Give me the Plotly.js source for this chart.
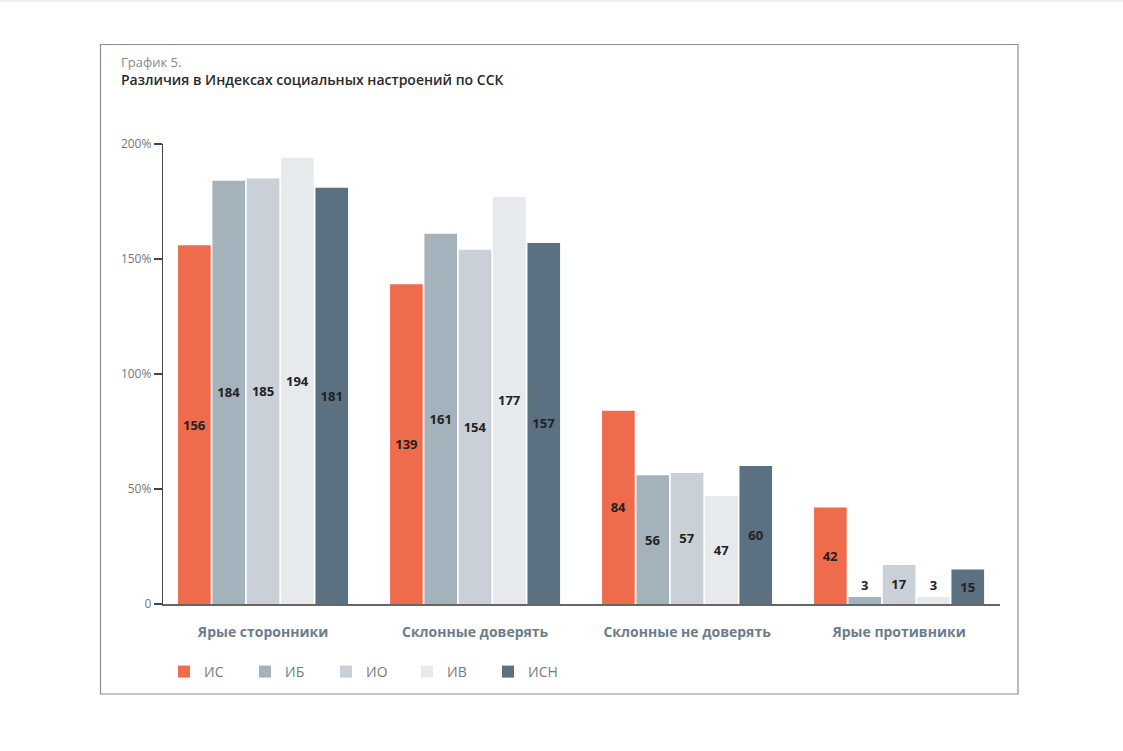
<!DOCTYPE html>
<html>
<head>
<meta charset="utf-8">
<script src="https://cdn.plot.ly/plotly-3.0.1.min.js"></script>
<style>
html,body{margin:0;padding:0;background:#fff;}
#chart{width:1123px;height:751px;}
</style>
</head>
<body>
<div id="chart"></div>
<script>
const categories = ["Ярые сторонники", "Склонные доверять", "Склонные не доверять", "Ярые противники"];
const seriesNames = ["ИС", "ИБ", "ИО", "ИВ", "ИСН"];
const valuesIS  = [156, 139, 84, 42];
const valuesIB  = [184, 161, 56, 3];
const valuesIO  = [185, 154, 57, 17];
const valuesIV  = [194, 177, 47, 3];
const valuesISN = [181, 157, 60, 15];
const yTickVals = [0, 50, 100, 150, 200];
const yTickText = ["0", "50%", "100%", "150%", "200%"];
const titleSmall = "График 5.";
const titleMain = "Различия в Индексах социальных настроений по ССК";

const colors = ["#EE6B4C", "#A4B2BC", "#C9D0D7", "#E7EAED", "#5B7080"];
const allValues = [valuesIS, valuesIB, valuesIO, valuesIV, valuesISN];
const font = "'Open Sans', 'DejaVu Sans', sans-serif";

const traces = allValues.map((vals, i) => ({
  type: "bar",
  name: seriesNames[i],
  x: categories,
  y: vals,
  text: vals.map(String),
  textposition: "auto",
  insidetextanchor: "middle",
  constraintext: "none",
  textfont: {family: font, size: 13, color: "#222", weight: 700},
  insidetextfont: {family: font, size: 13, color: "#222", weight: 700},
  outsidetextfont: {family: font, size: 13, color: "#222", weight: 700},
  marker: {color: colors[i]},
  hoverinfo: "skip"
}));

const W = 837, H = 460;
const px = x => (x - 163) / W;
const py = y => (604 - y) / H;

const layout = {
  width: 1123, height: 751,
  margin: {l: 163, r: 123, t: 144, b: 147},
  paper_bgcolor: "#fff", plot_bgcolor: "#fff",
  barmode: "group",
  bargap: 0.19,
  bargroupgap: 0.05,
  showlegend: true,
  legend: {
    orientation: "h",
    x: px(164), y: py(656), xanchor: "left", yanchor: "top",
    entrywidth: 36, entrywidthmode: "pixels",
    font: {family: font, size: 14, color: "#7A7A7A"},
    itemwidth: 30, traceorder: "normal"
  },
  xaxis: {
    type: "category",
    range: [-0.472, 3.476],
    showline: true, linecolor: "#666", linewidth: 1.5,
    ticks: "", showgrid: false, zeroline: false,
    tickfont: {family: font, size: 14, color: "#6C7D8A", weight: 700},
    ticklabelstandoff: 15
  },
  yaxis: {
    range: [0, 200],
    tickvals: yTickVals, ticktext: yTickText,
    showline: true, linecolor: "#444", linewidth: 1.2,
    ticks: "outside", ticklen: 8, tickcolor: "#444", tickwidth: 1.2,
    showgrid: false, zeroline: false,
    tickfont: {family: font, size: 12, color: "#777"}
  },
  shapes: [
    {type: "rect", xref: "paper", yref: "paper",
     x0: px(100.5), x1: px(1018), y0: py(694), y1: py(44.5),
     line: {color: "#8A9096", width: 1.2}, fillcolor: "rgba(0,0,0,0)"},
    {type: "line", xref: "paper", yref: "paper",
     x0: px(0), x1: px(1123), y0: py(1), y1: py(1),
     line: {color: "#E2E2E2", width: 1}}
  ],
  annotations: [
    {xref: "paper", yref: "paper", x: px(119), y: py(62), xanchor: "left", yanchor: "middle",
     text: titleSmall, showarrow: false,
     font: {family: font, size: 13, color: "#8A8A8A"}},
    {xref: "paper", yref: "paper", x: px(119), y: py(79), xanchor: "left", yanchor: "middle",
     text: titleMain, showarrow: false,
     font: {family: font, size: 14, color: "#2A2A2A", weight: 600}}
  ]
};

Plotly.newPlot("chart", traces, layout, {displayModeBar: false, staticPlot: true});
</script>
</body>
</html>
